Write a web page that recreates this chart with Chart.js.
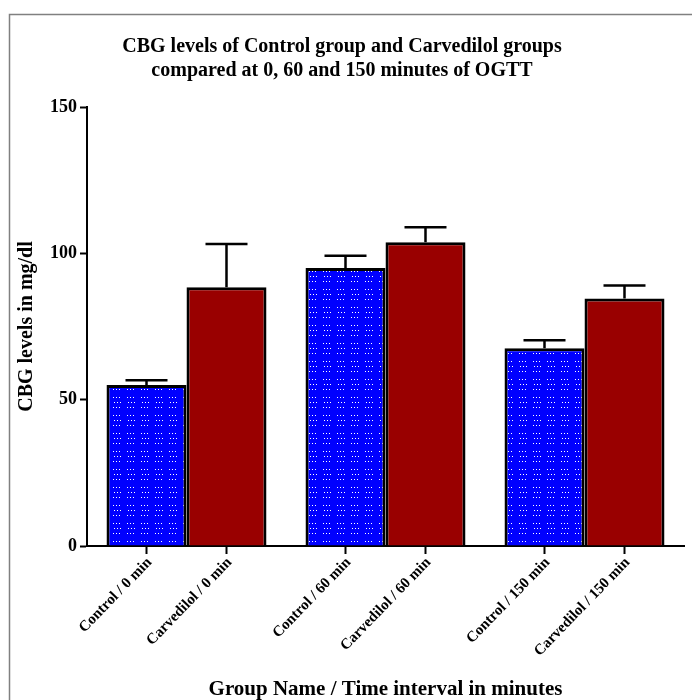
<!DOCTYPE html>
<html>
<head>
<meta charset="utf-8">
<script src="https://cdn.jsdelivr.net/npm/chart.js@4"></script>
<style>
  html, body { margin: 0; padding: 0; background: #fff; }
  #wrap { width: 692px; height: 700px; position: relative; }
</style>
</head>
<body>
<div id="wrap"><canvas id="c" width="692" height="700"></canvas></div>
<script>
// ---- data ----
const timePoints = ['0 min', '60 min', '150 min'];
const barLabels = ['Control / 0 min', 'Carvedilol / 0 min', 'Control / 60 min', 'Carvedilol / 60 min', 'Control / 150 min', 'Carvedilol / 150 min'];
const controlMean = [55, 95, 67.6];
const controlSem = [1.6, 4.2, 2.7];
const carvedilolMean = [88.4, 103.8, 84.6];
const carvedilolSem = [14.8, 5.1, 4.4];
const yTicks = [0, 50, 100, 150];
const titleLines = ['CBG levels of Control group and Carvedilol groups', 'compared at 0, 60 and 150 minutes of OGTT'];
const yTitle = 'CBG levels in mg/dl';
const xTitle = 'Group Name / Time interval in minutes';

const SERIF = '"Liberation Serif", "Times New Roman", serif';

// dotted blue pattern
function makePattern() {
  const p = document.createElement('canvas');
  p.width = 14; p.height = 18;
  const g = p.getContext('2d');
  g.fillStyle = '#0000ff';
  g.fillRect(0, 0, 14, 18);
  g.fillStyle = '#ffffff';
  const rows = [[1, 0], [6, 1], [11, 0]];
  rows.forEach(([y, off]) => {
    [1, 4, 7].forEach(x => g.fillRect(x + off, y, 1, 1));
  });
  return g.createPattern(p, 'repeat');
}
const ctx = document.getElementById('c').getContext('2d');
const bluePattern = makePattern();

const frame = {
  id: 'frame',
  beforeDraw(chart) {
    const c = chart.ctx;
    c.save();
    c.fillStyle = '#fff';
    c.fillRect(0, 0, chart.width, chart.height);
    c.strokeStyle = '#808080';
    c.lineWidth = 1.5;
    c.strokeRect(9.5, 14.5, 720, 720);
    c.restore();
  }
};

const errorBars = {
  id: 'errorBars',
  afterDatasetsDraw(chart) {
    const c = chart.ctx;
    const ys = chart.scales.y;
    const sems = [controlSem, carvedilolSem];
    c.save();
    c.strokeStyle = '#000';
    c.lineWidth = 2.5;
    chart.data.datasets.forEach((ds, di) => {
      const meta = chart.getDatasetMeta(di);
      meta.data.forEach((bar, i) => {
        const top = ys.getPixelForValue(ds.data[i] + sems[di][i]);
        const x = bar.x;
        c.beginPath();
        c.moveTo(x, bar.y);
        c.lineTo(x, top);
        c.moveTo(x - 21, top);
        c.lineTo(x + 21, top);
        c.stroke();
      });
    });
    c.restore();
  }
};

const xLabels = {
  id: 'xLabels',
  afterDraw(chart) {
    const c = chart.ctx;
    const bottom = chart.chartArea.bottom;
    const items = [];
    timePoints.forEach((t, i) => {
      chart.data.datasets.forEach((ds, di) => {
        items.push({ x: chart.getDatasetMeta(di).data[i].x, label: barLabels[i * 2 + di] });
      });
    });
    c.save();
    c.strokeStyle = '#000';
    c.lineWidth = 2;
    c.fillStyle = '#000';
    c.font = 'bold 15px ' + SERIF;
    items.forEach(it => {
      c.beginPath();
      c.moveTo(it.x, bottom);
      c.lineTo(it.x, bottom + 8);
      c.stroke();
      c.save();
      c.translate(it.x + 3, bottom + 14);
      c.rotate(-46 * Math.PI / 180);
      c.textAlign = 'right';
      c.textBaseline = 'middle';
      c.fillText(it.label, 0, 0);
      c.restore();
    });
    c.restore();
  }
};

new Chart(ctx, {
  type: 'bar',
  data: {
    labels: timePoints,
    datasets: [
      {
        label: 'Control',
        data: controlMean,
        backgroundColor: bluePattern,
        borderColor: '#000',
        borderWidth: 3,
        borderSkipped: 'bottom',
        barPercentage: 1.0,
        categoryPercentage: 0.804
      },
      {
        label: 'Carvedilol',
        data: carvedilolMean,
        backgroundColor: '#990000',
        borderColor: '#000',
        borderWidth: 3,
        borderSkipped: 'bottom',
        barPercentage: 1.0,
        categoryPercentage: 0.804
      }
    ]
  },
  options: {
    responsive: false,
    animation: false,
    layout: { padding: { left: 0, right: 8, top: 0, bottom: 0 } },
    plugins: {
      legend: { display: false },
      tooltip: { enabled: false },
      title: {
        display: true,
        text: titleLines,
        color: '#000',
        font: { family: SERIF, size: 20, weight: 'bold', lineHeight: 1.2 },
        padding: { top: 35, bottom: 24 }
      }
    },
    scales: {
      x: {
        type: 'category',
        grid: { display: false, drawTicks: false },
        border: { display: true, color: '#000', width: 2 },
        ticks: { display: false },
        title: {
          display: true,
          text: xTitle,
          color: '#000',
          font: { family: SERIF, size: 21, weight: 'bold' },
          padding: { top: 0, bottom: -2 }
        },
        afterFit(scale) { scale.height = 154; }
      },
      y: {
        min: 0,
        max: 150,
        afterBuildTicks(scale) { scale.ticks = yTicks.map(v => ({ value: v })); },
        grid: { display: true, drawOnChartArea: false, drawTicks: true, tickLength: 7, tickWidth: 2, tickColor: '#000' },
        border: { display: true, color: '#000', width: 2 },
        ticks: {
          color: '#000',
          padding: 3,
          font: { family: SERIF, size: 18, weight: 'bold' }
        },
        title: {
          display: true,
          text: yTitle,
          color: '#000',
          font: { family: SERIF, size: 20, weight: 'bold' },
          padding: { top: 15, bottom: 0 }
        },
        afterFit(scale) { scale.width = 87; }
      }
    }
  },
  plugins: [frame, errorBars, xLabels]
});
</script>
</body>
</html>
